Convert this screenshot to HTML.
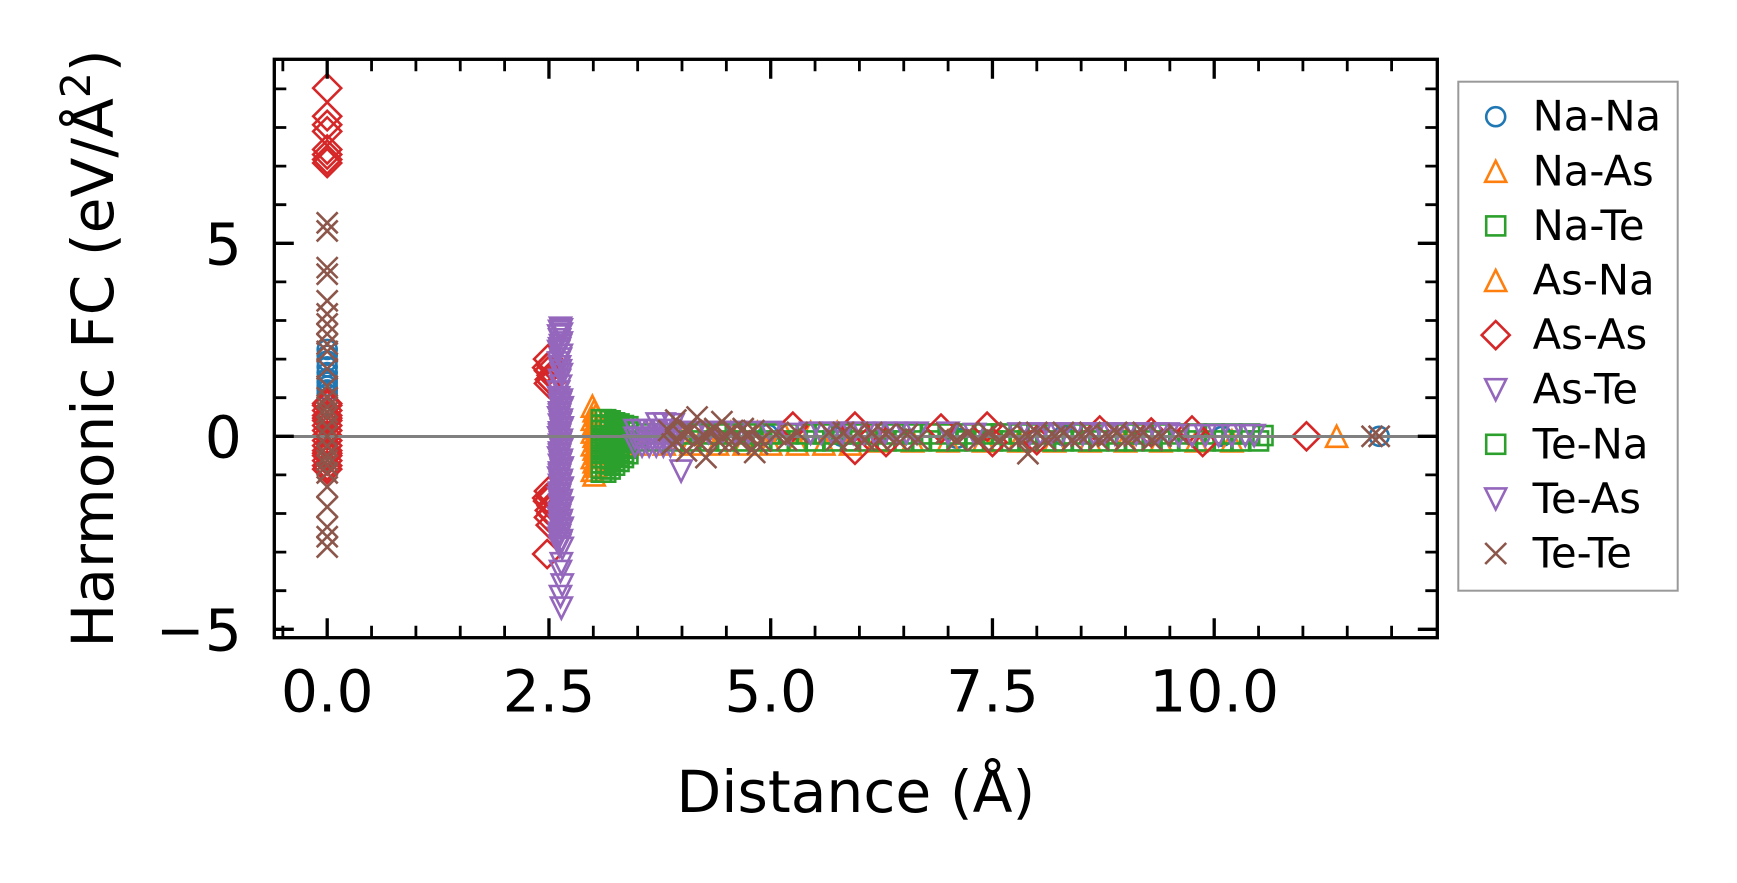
<!DOCTYPE html>
<html><head><meta charset="utf-8"><style>
html,body{margin:0;padding:0;background:#fff;width:1737px;height:883px;overflow:hidden}
svg{display:block}
text{font-family:"DejaVu Sans","Liberation Sans",sans-serif;fill:#000}
.m{fill:none;stroke-width:2.6;vector-effect:non-scaling-stroke}
</style></head><body>
<svg width="1737" height="883" viewBox="0 0 1737 883">
<defs>
<ellipse id="c" class="m" rx="0.1071" ry="0.2461" stroke="#1f77b4"/>
<polygon id="t" class="m" points="0,0.272 0.1184,-0.272 -0.1184,-0.272" stroke="#ff7f0e"/>
<rect id="s" class="m" x="-0.1071" y="-0.2461" width="0.2142" height="0.4922" stroke="#2ca02c"/>
<polygon id="d" class="m" points="0,0.3627 0.1578,0 0,-0.3627 -0.1578,0" stroke="#d62728"/>
<polygon id="v" class="m" points="0,-0.272 0.1184,0.272 -0.1184,0.272" stroke="#9467bd"/>
<path id="x" class="m" d="M-0.1184,-0.272L0.1184,0.272M-0.1184,0.272L0.1184,-0.272" stroke="#8c564b"/>
</defs>

<g transform="translate(327.2 436.3) scale(88.7 -38.6)">
<!-- Na-Na blue circles -->
<use href="#c" x="0" y="2.25"/><use href="#c" x="0" y="2.1"/><use href="#c" x="0" y="1.95"/><use href="#c" x="0" y="1.8"/><use href="#c" x="0" y="1.65"/><use href="#c" x="0" y="1.5"/><use href="#c" x="0" y="1.4"/><use href="#c" x="0" y="1.3"/><use href="#c" x="0" y="1.2"/><use href="#c" x="0" y="1.1"/><use href="#c" x="0" y="0.6"/><use href="#c" x="0" y="0.3"/><use href="#c" x="0" y="-0.2"/>
<use href="#c" x="4.97" y="0.05"/><use href="#c" x="5.8" y="0"/><use href="#c" x="7.1" y="-0.05"/><use href="#c" x="8.3" y="0.02"/><use href="#c" x="10.09" y="0"/><use href="#c" x="11.86" y="0"/>

<!-- orange triangles -->
<use href="#t" x="2.99" y="0.78"/><use href="#t" x="3.01" y="0.66"/><use href="#t" x="3.03" y="0.55"/><use href="#t" x="2.99" y="0.44"/><use href="#t" x="3.01" y="0.33"/><use href="#t" x="3.03" y="0.22"/><use href="#t" x="2.99" y="0.11"/><use href="#t" x="3.01" y="0"/><use href="#t" x="3.03" y="-0.11"/><use href="#t" x="2.99" y="-0.22"/><use href="#t" x="3.01" y="-0.33"/><use href="#t" x="3.03" y="-0.44"/><use href="#t" x="2.99" y="-0.55"/><use href="#t" x="3.01" y="-0.66"/><use href="#t" x="3.03" y="-0.77"/><use href="#t" x="2.99" y="-0.88"/><use href="#t" x="3.01" y="-1.0"/>
<use href="#t" x="3.5" y="-0.2"/><use href="#t" x="3.65" y="0.1"/><use href="#t" x="3.8" y="-0.2"/><use href="#t" x="3.95" y="0.1"/><use href="#t" x="4.1" y="-0.2"/><use href="#t" x="4.25" y="0.1"/><use href="#t" x="4.4" y="-0.2"/><use href="#t" x="4.55" y="0.1"/><use href="#t" x="4.7" y="-0.2"/><use href="#t" x="4.85" y="0.1"/><use href="#t" x="5.0" y="-0.2"/><use href="#t" x="5.15" y="0.1"/><use href="#t" x="5.3" y="-0.2"/><use href="#t" x="5.45" y="0.1"/><use href="#t" x="5.6" y="-0.2"/><use href="#t" x="5.75" y="0.1"/><use href="#t" x="5.9" y="-0.2"/>
<use href="#t" x="6.2" y="-0.12"/><use href="#t" x="6.6" y="-0.12"/><use href="#t" x="7.0" y="-0.12"/><use href="#t" x="7.4" y="-0.12"/><use href="#t" x="7.8" y="-0.12"/><use href="#t" x="8.2" y="-0.12"/><use href="#t" x="8.6" y="-0.12"/><use href="#t" x="9.0" y="-0.12"/><use href="#t" x="9.4" y="-0.12"/><use href="#t" x="9.8" y="-0.12"/><use href="#t" x="10.2" y="-0.12"/>
<use href="#t" x="11.38" y="0"/>

<!-- green squares -->
<use href="#s" x="3.09" y="0.43"/><use href="#s" x="3.09" y="0.29"/><use href="#s" x="3.09" y="0.15"/><use href="#s" x="3.09" y="0.01"/><use href="#s" x="3.09" y="-0.13"/><use href="#s" x="3.09" y="-0.27"/><use href="#s" x="3.09" y="-0.41"/><use href="#s" x="3.09" y="-0.55"/><use href="#s" x="3.09" y="-0.69"/><use href="#s" x="3.09" y="-0.83"/><use href="#s" x="3.09" y="-0.93"/>
<use href="#s" x="3.14" y="0.43"/><use href="#s" x="3.14" y="0.29"/><use href="#s" x="3.14" y="0.15"/><use href="#s" x="3.14" y="0.01"/><use href="#s" x="3.14" y="-0.13"/><use href="#s" x="3.14" y="-0.27"/><use href="#s" x="3.14" y="-0.41"/><use href="#s" x="3.14" y="-0.55"/><use href="#s" x="3.14" y="-0.69"/><use href="#s" x="3.14" y="-0.83"/><use href="#s" x="3.14" y="-0.93"/>
<use href="#s" x="3.19" y="0.40"/><use href="#s" x="3.19" y="0.26"/><use href="#s" x="3.19" y="0.12"/><use href="#s" x="3.19" y="-0.02"/><use href="#s" x="3.19" y="-0.16"/><use href="#s" x="3.19" y="-0.30"/><use href="#s" x="3.19" y="-0.44"/><use href="#s" x="3.19" y="-0.58"/><use href="#s" x="3.19" y="-0.72"/><use href="#s" x="3.19" y="-0.85"/>
<use href="#s" x="3.24" y="0.35"/><use href="#s" x="3.24" y="0.21"/><use href="#s" x="3.24" y="0.07"/><use href="#s" x="3.24" y="-0.07"/><use href="#s" x="3.24" y="-0.21"/><use href="#s" x="3.24" y="-0.35"/><use href="#s" x="3.24" y="-0.49"/><use href="#s" x="3.24" y="-0.63"/><use href="#s" x="3.24" y="-0.75"/>
<use href="#s" x="3.29" y="0.32"/><use href="#s" x="3.29" y="0.18"/><use href="#s" x="3.29" y="0.04"/><use href="#s" x="3.29" y="-0.10"/><use href="#s" x="3.29" y="-0.24"/><use href="#s" x="3.29" y="-0.38"/><use href="#s" x="3.29" y="-0.52"/><use href="#s" x="3.29" y="-0.65"/>
<use href="#s" x="3.34" y="0.28"/><use href="#s" x="3.34" y="0.14"/><use href="#s" x="3.34" y="0"/><use href="#s" x="3.34" y="-0.14"/><use href="#s" x="3.34" y="-0.28"/><use href="#s" x="3.34" y="-0.42"/><use href="#s" x="3.34" y="-0.55"/>
<use href="#s" x="3.39" y="0.25"/><use href="#s" x="3.39" y="0.11"/><use href="#s" x="3.39" y="-0.03"/><use href="#s" x="3.39" y="-0.17"/><use href="#s" x="3.39" y="-0.31"/><use href="#s" x="3.39" y="-0.45"/>
<use href="#s" x="3.5" y="-0.12"/><use href="#s" x="3.6" y="0.06"/><use href="#s" x="3.7" y="-0.12"/><use href="#s" x="3.8" y="0.06"/><use href="#s" x="3.9" y="-0.12"/><use href="#s" x="4.0" y="0.06"/><use href="#s" x="4.1" y="-0.12"/><use href="#s" x="4.2" y="0.06"/><use href="#s" x="4.3" y="-0.12"/><use href="#s" x="4.4" y="0.06"/><use href="#s" x="4.5" y="-0.12"/><use href="#s" x="4.6" y="0.06"/><use href="#s" x="4.7" y="-0.12"/><use href="#s" x="4.8" y="0.06"/><use href="#s" x="4.9" y="-0.12"/><use href="#s" x="5.0" y="0.06"/><use href="#s" x="5.1" y="-0.12"/><use href="#s" x="5.2" y="0.06"/><use href="#s" x="5.3" y="-0.12"/><use href="#s" x="5.4" y="0.06"/><use href="#s" x="5.5" y="-0.12"/><use href="#s" x="5.6" y="0.06"/><use href="#s" x="5.7" y="-0.12"/><use href="#s" x="5.8" y="0.06"/><use href="#s" x="5.9" y="-0.12"/><use href="#s" x="6.0" y="0.06"/><use href="#s" x="6.1" y="-0.12"/><use href="#s" x="6.2" y="0.06"/><use href="#s" x="6.3" y="-0.12"/><use href="#s" x="6.4" y="0.06"/><use href="#s" x="6.5" y="-0.12"/><use href="#s" x="6.6" y="0.06"/><use href="#s" x="6.7" y="-0.12"/><use href="#s" x="6.8" y="0.06"/><use href="#s" x="6.9" y="-0.12"/><use href="#s" x="7.0" y="0.06"/><use href="#s" x="7.1" y="-0.12"/><use href="#s" x="7.2" y="0.06"/><use href="#s" x="7.3" y="-0.12"/><use href="#s" x="7.4" y="0.06"/><use href="#s" x="7.5" y="-0.12"/><use href="#s" x="7.6" y="0.06"/><use href="#s" x="7.7" y="-0.12"/><use href="#s" x="7.8" y="0.06"/><use href="#s" x="7.9" y="-0.12"/><use href="#s" x="8.0" y="0.06"/><use href="#s" x="8.1" y="-0.12"/><use href="#s" x="8.2" y="0.06"/><use href="#s" x="8.3" y="-0.12"/><use href="#s" x="8.4" y="0.06"/><use href="#s" x="8.5" y="-0.12"/><use href="#s" x="8.6" y="0.06"/><use href="#s" x="8.7" y="-0.12"/><use href="#s" x="8.8" y="0.06"/><use href="#s" x="8.9" y="-0.12"/><use href="#s" x="9.0" y="0.06"/><use href="#s" x="9.1" y="-0.12"/><use href="#s" x="9.2" y="0.06"/><use href="#s" x="9.3" y="-0.12"/><use href="#s" x="9.4" y="0.06"/><use href="#s" x="9.5" y="-0.12"/><use href="#s" x="9.6" y="0.06"/><use href="#s" x="9.7" y="-0.12"/><use href="#s" x="9.8" y="0.06"/><use href="#s" x="9.9" y="-0.12"/><use href="#s" x="10.0" y="0.06"/><use href="#s" x="10.1" y="-0.12"/><use href="#s" x="10.2" y="0.06"/><use href="#s" x="10.3" y="-0.12"/><use href="#s" x="10.4" y="0.06"/><use href="#s" x="10.5" y="-0.12"/><use href="#s" x="10.55" y="0.02"/>

<!-- red diamonds -->
<use href="#d" x="0" y="9.02"/><use href="#d" x="0" y="8.29"/><use href="#d" x="0" y="8.07"/><use href="#d" x="0" y="7.9"/><use href="#d" x="0" y="7.43"/><use href="#d" x="0" y="7.3"/><use href="#d" x="0" y="7.17"/><use href="#d" x="0" y="7.08"/>
<use href="#d" x="0" y="0.85"/><use href="#d" x="0" y="0.8"/><use href="#d" x="0" y="0.67"/><use href="#d" x="0" y="0.54"/><use href="#d" x="0" y="0.47"/><use href="#d" x="0" y="0.41"/><use href="#d" x="0" y="0.28"/><use href="#d" x="0" y="0.15"/><use href="#d" x="0" y="0.02"/><use href="#d" x="0" y="-0.11"/><use href="#d" x="0" y="-0.24"/><use href="#d" x="0" y="-0.37"/><use href="#d" x="0" y="-0.44"/><use href="#d" x="0" y="-0.5"/><use href="#d" x="0" y="-0.63"/><use href="#d" x="0" y="-0.76"/><use href="#d" x="0" y="-0.85"/>
<use href="#d" x="2.49" y="2.0"/><use href="#d" x="2.52" y="1.85"/><use href="#d" x="2.5" y="1.7"/><use href="#d" x="2.53" y="1.58"/><use href="#d" x="2.51" y="1.47"/><use href="#d" x="2.5" y="1.37"/><use href="#d" x="2.48" y="1.78"/><use href="#d" x="2.53" y="1.42"/>
<use href="#d" x="2.5" y="-1.42"/><use href="#d" x="2.52" y="-1.55"/><use href="#d" x="2.49" y="-1.68"/><use href="#d" x="2.53" y="-1.8"/><use href="#d" x="2.51" y="-1.92"/><use href="#d" x="2.5" y="-2.1"/><use href="#d" x="2.52" y="-2.3"/><use href="#d" x="2.48" y="-3.05"/><use href="#d" x="2.48" y="-1.6"/><use href="#d" x="2.53" y="-2.0"/>
<use href="#d" x="5.25" y="0.25"/><use href="#d" x="5.95" y="0.25"/><use href="#d" x="5.95" y="-0.35"/><use href="#d" x="6.3" y="-0.15"/><use href="#d" x="6.92" y="0.2"/><use href="#d" x="7.44" y="0.25"/><use href="#d" x="7.5" y="-0.15"/><use href="#d" x="8.0" y="-0.1"/><use href="#d" x="8.71" y="0.15"/><use href="#d" x="9.29" y="0.1"/><use href="#d" x="9.75" y="0.15"/><use href="#d" x="9.87" y="-0.15"/><use href="#d" x="11.04" y="0"/>

<!-- purple down triangles -->
<use href="#v" x="2.63" y="2.8"/><use href="#v" x="2.62" y="2.72"/><use href="#v" x="2.64" y="2.65"/><use href="#v" x="2.62" y="2.5"/><use href="#v" x="2.63" y="2.35"/><use href="#v" x="2.61" y="2.2"/><use href="#v" x="2.63" y="2.0"/><use href="#v" x="2.62" y="1.8"/><use href="#v" x="2.64" y="1.6"/><use href="#v" x="2.62" y="1.45"/><use href="#v" x="2.63" y="1.3"/><use href="#v" x="2.61" y="1.15"/>
<use href="#v" x="2.64" y="2.76"/><use href="#v" x="2.61" y="2.6"/><use href="#v" x="2.64" y="2.42"/><use href="#v" x="2.62" y="2.27"/><use href="#v" x="2.64" y="2.1"/><use href="#v" x="2.61" y="1.9"/><use href="#v" x="2.63" y="1.7"/>
<use href="#v" x="2.61" y="1.0"/><use href="#v" x="2.63" y="0.87"/><use href="#v" x="2.65" y="0.74"/><use href="#v" x="2.62" y="0.61"/><use href="#v" x="2.61" y="0.48"/><use href="#v" x="2.63" y="0.35"/><use href="#v" x="2.65" y="0.22"/><use href="#v" x="2.62" y="0.09"/><use href="#v" x="2.61" y="-0.04"/><use href="#v" x="2.63" y="-0.17"/><use href="#v" x="2.65" y="-0.3"/><use href="#v" x="2.62" y="-0.43"/><use href="#v" x="2.61" y="-0.56"/><use href="#v" x="2.63" y="-0.69"/><use href="#v" x="2.65" y="-0.82"/><use href="#v" x="2.62" y="-0.95"/><use href="#v" x="2.61" y="-1.08"/><use href="#v" x="2.63" y="-1.21"/><use href="#v" x="2.65" y="-1.34"/><use href="#v" x="2.62" y="-1.47"/><use href="#v" x="2.61" y="-1.6"/><use href="#v" x="2.63" y="-1.73"/><use href="#v" x="2.65" y="-1.86"/><use href="#v" x="2.62" y="-1.99"/><use href="#v" x="2.61" y="-2.12"/><use href="#v" x="2.63" y="-2.25"/><use href="#v" x="2.65" y="-2.38"/><use href="#v" x="2.62" y="-2.51"/><use href="#v" x="2.61" y="-2.64"/><use href="#v" x="2.63" y="-2.77"/><use href="#v" x="2.65" y="-2.9"/>
<use href="#v" x="2.64" y="0.94"/><use href="#v" x="2.62" y="0.81"/><use href="#v" x="2.64" y="0.68"/><use href="#v" x="2.62" y="0.55"/><use href="#v" x="2.64" y="0.42"/><use href="#v" x="2.62" y="0.29"/><use href="#v" x="2.64" y="0.16"/><use href="#v" x="2.62" y="0.03"/><use href="#v" x="2.64" y="-0.1"/><use href="#v" x="2.62" y="-0.23"/><use href="#v" x="2.64" y="-0.36"/><use href="#v" x="2.62" y="-0.49"/><use href="#v" x="2.64" y="-0.62"/><use href="#v" x="2.62" y="-0.75"/><use href="#v" x="2.64" y="-0.88"/><use href="#v" x="2.62" y="-1.01"/><use href="#v" x="2.64" y="-1.14"/><use href="#v" x="2.62" y="-1.27"/><use href="#v" x="2.64" y="-1.4"/><use href="#v" x="2.62" y="-1.53"/><use href="#v" x="2.64" y="-1.66"/><use href="#v" x="2.62" y="-1.79"/><use href="#v" x="2.64" y="-1.92"/><use href="#v" x="2.62" y="-2.05"/><use href="#v" x="2.64" y="-2.18"/><use href="#v" x="2.62" y="-2.31"/><use href="#v" x="2.64" y="-2.44"/><use href="#v" x="2.62" y="-2.57"/><use href="#v" x="2.64" y="-2.7"/><use href="#v" x="2.62" y="-2.84"/>
<use href="#v" x="2.64" y="-3.3"/><use href="#v" x="2.63" y="-3.5"/><use href="#v" x="2.65" y="-3.85"/><use href="#v" x="2.63" y="-4.15"/><use href="#v" x="2.64" y="-4.45"/>
<use href="#v" x="3.47" y="0.15"/><use href="#v" x="3.47" y="-0.05"/><use href="#v" x="3.47" y="-0.25"/><use href="#v" x="3.55" y="0.15"/><use href="#v" x="3.55" y="-0.05"/><use href="#v" x="3.55" y="-0.25"/><use href="#v" x="3.63" y="0.15"/><use href="#v" x="3.63" y="-0.05"/><use href="#v" x="3.63" y="-0.25"/><use href="#v" x="3.71" y="0.15"/><use href="#v" x="3.71" y="-0.05"/><use href="#v" x="3.71" y="-0.25"/><use href="#v" x="3.79" y="0.15"/><use href="#v" x="3.79" y="-0.05"/><use href="#v" x="3.79" y="-0.25"/><use href="#v" x="3.87" y="0.15"/><use href="#v" x="3.87" y="-0.05"/><use href="#v" x="3.87" y="-0.25"/>
<use href="#v" x="3.72" y="0.32"/><use href="#v" x="3.8" y="0.32"/><use href="#v" x="3.9" y="0.3"/><use href="#v" x="3.99" y="-0.9"/>
<use href="#v" x="4.0" y="0.1"/><use href="#v" x="4.15" y="0.1"/><use href="#v" x="4.3" y="0.1"/><use href="#v" x="4.45" y="0.1"/><use href="#v" x="4.6" y="0.1"/><use href="#v" x="4.75" y="0.1"/><use href="#v" x="5.0" y="0.1"/><use href="#v" x="5.2" y="0.05"/>
<use href="#v" x="5.45" y="0.08"/><use href="#v" x="5.57" y="0.08"/><use href="#v" x="5.69" y="0.08"/><use href="#v" x="5.81" y="0.08"/><use href="#v" x="5.93" y="0.08"/><use href="#v" x="6.05" y="0.08"/><use href="#v" x="6.17" y="0.08"/><use href="#v" x="6.29" y="0.08"/><use href="#v" x="6.41" y="0.08"/><use href="#v" x="6.53" y="0.08"/><use href="#v" x="6.65" y="0.08"/><use href="#v" x="7.0" y="0.08"/><use href="#v" x="7.3" y="0.05"/>
<use href="#v" x="7.8" y="0.06"/><use href="#v" x="7.92" y="0.06"/><use href="#v" x="8.04" y="0.06"/><use href="#v" x="8.16" y="0.06"/><use href="#v" x="8.28" y="0.06"/><use href="#v" x="8.4" y="0.06"/><use href="#v" x="8.52" y="0.06"/><use href="#v" x="8.64" y="0.06"/><use href="#v" x="8.76" y="0.06"/><use href="#v" x="8.88" y="0.06"/><use href="#v" x="9.0" y="0.06"/><use href="#v" x="9.12" y="0.06"/><use href="#v" x="9.24" y="0.06"/><use href="#v" x="9.36" y="0.06"/><use href="#v" x="9.48" y="0.06"/>
<use href="#v" x="9.6" y="0.02"/><use href="#v" x="9.75" y="0.02"/><use href="#v" x="9.9" y="0.02"/><use href="#v" x="10.05" y="0.02"/><use href="#v" x="10.2" y="0.02"/><use href="#v" x="10.35" y="0.02"/><use href="#v" x="10.45" y="0.02"/>
</g>

<!-- zero line -->
<line x1="274.3" y1="436.5" x2="1437.3" y2="436.5" stroke="#808080" stroke-width="3"/>

<g transform="translate(327.2 436.3) scale(88.7 -38.6)">
<!-- brown x -->
<use href="#x" x="0" y="5.53"/><use href="#x" x="0" y="5.32"/><use href="#x" x="0" y="4.37"/><use href="#x" x="0" y="4.2"/><use href="#x" x="0" y="3.51"/><use href="#x" x="0" y="3.17"/><use href="#x" x="0" y="2.91"/><use href="#x" x="0" y="2.65"/><use href="#x" x="0" y="2.39"/><use href="#x" x="0" y="2.2"/><use href="#x" x="0" y="1.75"/><use href="#x" x="0" y="1.3"/><use href="#x" x="0" y="1.0"/><use href="#x" x="0" y="0.75"/><use href="#x" x="0" y="0.5"/><use href="#x" x="0" y="0.25"/><use href="#x" x="0" y="0"/><use href="#x" x="0" y="-0.25"/><use href="#x" x="0" y="-0.5"/><use href="#x" x="0" y="-0.75"/><use href="#x" x="0" y="-0.95"/><use href="#x" x="0" y="-1.31"/><use href="#x" x="0" y="-1.83"/><use href="#x" x="0" y="-2.35"/><use href="#x" x="0" y="-2.6"/><use href="#x" x="0" y="-2.87"/><use href="#x" x="0" y="0.62"/><use href="#x" x="0" y="-0.62"/>
<use href="#x" x="3.85" y="0.15"/><use href="#x" x="3.93" y="-0.12"/><use href="#x" x="4.01" y="0.02"/><use href="#x" x="4.09" y="0.15"/><use href="#x" x="4.17" y="-0.12"/><use href="#x" x="4.25" y="0.02"/><use href="#x" x="4.33" y="0.15"/><use href="#x" x="4.41" y="-0.12"/><use href="#x" x="4.49" y="0.02"/><use href="#x" x="4.57" y="0.15"/><use href="#x" x="4.65" y="-0.12"/><use href="#x" x="4.73" y="0.02"/><use href="#x" x="4.81" y="0.15"/><use href="#x" x="4.89" y="-0.12"/>
<use href="#x" x="3.89" y="-0.2"/><use href="#x" x="4.05" y="0.2"/><use href="#x" x="4.21" y="-0.2"/><use href="#x" x="4.37" y="0.2"/><use href="#x" x="4.53" y="-0.2"/><use href="#x" x="4.69" y="0.2"/><use href="#x" x="4.85" y="-0.2"/>
<use href="#x" x="3.93" y="0.42"/><use href="#x" x="4.17" y="0.5"/><use href="#x" x="4.27" y="-0.55"/><use href="#x" x="4.45" y="0.38"/><use href="#x" x="4.82" y="-0.42"/><use href="#x" x="4.05" y="-0.38"/>
<use href="#x" x="5.06" y="0.05"/><use href="#x" x="5.18" y="-0.1"/><use href="#x" x="5.3" y="0.1"/>
<use href="#x" x="5.66" y="0.1"/><use href="#x" x="5.74" y="-0.1"/><use href="#x" x="5.82" y="0.1"/><use href="#x" x="5.9" y="-0.1"/><use href="#x" x="5.98" y="0.1"/><use href="#x" x="6.06" y="-0.1"/><use href="#x" x="6.14" y="0.1"/><use href="#x" x="6.22" y="-0.1"/>
<use href="#x" x="6.3" y="0.05"/><use href="#x" x="6.42" y="-0.08"/><use href="#x" x="6.54" y="0.05"/><use href="#x" x="6.66" y="-0.08"/>
<use href="#x" x="6.98" y="0.08"/><use href="#x" x="7.1" y="-0.1"/><use href="#x" x="7.22" y="0.08"/><use href="#x" x="7.34" y="-0.1"/><use href="#x" x="7.46" y="0.08"/><use href="#x" x="7.58" y="-0.1"/><use href="#x" x="7.9" y="-0.45"/>
<use href="#x" x="7.7" y="0.1"/><use href="#x" x="7.8" y="-0.1"/><use href="#x" x="7.9" y="0"/><use href="#x" x="8.0" y="0.1"/><use href="#x" x="8.1" y="-0.1"/><use href="#x" x="8.2" y="0"/><use href="#x" x="8.3" y="0.1"/><use href="#x" x="8.4" y="-0.1"/><use href="#x" x="8.5" y="0"/><use href="#x" x="8.6" y="0.1"/><use href="#x" x="8.7" y="-0.1"/><use href="#x" x="8.8" y="0"/><use href="#x" x="8.9" y="0.1"/><use href="#x" x="9.0" y="-0.1"/><use href="#x" x="9.1" y="0"/><use href="#x" x="9.2" y="0.1"/><use href="#x" x="9.3" y="-0.1"/><use href="#x" x="9.4" y="0"/>
<use href="#x" x="9.6" y="0.05"/><use href="#x" x="11.78" y="0"/><use href="#x" x="11.86" y="0"/>
</g>

<!-- spines -->
<rect x="274.3" y="59.3" width="1163" height="578.4" fill="none" stroke="#000" stroke-width="3.33"/>

<!-- major ticks -->
<path fill="none" stroke="#000" stroke-width="3.3" d="
M327.2 637.7v-19.5M548.95 637.7v-19.5M770.7 637.7v-19.5M992.45 637.7v-19.5M1214.2 637.7v-19.5
M327.2 59.3v19.5M548.95 59.3v19.5M770.7 59.3v19.5M992.45 59.3v19.5M1214.2 59.3v19.5
M274.3 629.3h19.5M274.3 436.3h19.5M274.3 243.3h19.5
M1437.3 629.3h-19.5M1437.3 436.3h-19.5M1437.3 243.3h-19.5"/>
<!-- minor ticks -->
<path fill="none" stroke="#000" stroke-width="2.8" d="
M282.85 637.7v-12M371.55 637.7v-12M415.9 637.7v-12M460.25 637.7v-12M504.6 637.7v-12M593.3 637.7v-12M637.65 637.7v-12M682 637.7v-12M726.35 637.7v-12M815.05 637.7v-12M859.4 637.7v-12M903.75 637.7v-12M948.1 637.7v-12M1036.8 637.7v-12M1081.15 637.7v-12M1125.5 637.7v-12M1169.85 637.7v-12M1258.55 637.7v-12M1302.9 637.7v-12M1347.25 637.7v-12M1391.6 637.7v-12
M282.85 59.3v12M371.55 59.3v12M415.9 59.3v12M460.25 59.3v12M504.6 59.3v12M593.3 59.3v12M637.65 59.3v12M682 59.3v12M726.35 59.3v12M815.05 59.3v12M859.4 59.3v12M903.75 59.3v12M948.1 59.3v12M1036.8 59.3v12M1081.15 59.3v12M1125.5 59.3v12M1169.85 59.3v12M1258.55 59.3v12M1302.9 59.3v12M1347.25 59.3v12M1391.6 59.3v12
M274.3 590.7h12M274.3 552.1h12M274.3 513.5h12M274.3 474.9h12M274.3 397.7h12M274.3 359.1h12M274.3 320.5h12M274.3 281.9h12M274.3 204.7h12M274.3 166.1h12M274.3 127.5h12M274.3 88.9h12
M1437.3 590.7h-12M1437.3 552.1h-12M1437.3 513.5h-12M1437.3 474.9h-12M1437.3 397.7h-12M1437.3 359.1h-12M1437.3 320.5h-12M1437.3 281.9h-12M1437.3 204.7h-12M1437.3 166.1h-12M1437.3 127.5h-12M1437.3 88.9h-12"/>

<!-- tick labels -->
<g font-size="58.3" text-anchor="middle">
<text x="327.2" y="711.5">0.0</text>
<text x="548.95" y="711.5">2.5</text>
<text x="770.7" y="711.5">5.0</text>
<text x="992.45" y="711.5">7.5</text>
<text x="1214.2" y="711.5">10.0</text>
</g>
<g font-size="58.3" text-anchor="end">
<text x="241.8" y="650.5">−5</text>
<text x="241.8" y="457.5">0</text>
<text x="241.8" y="264.5">5</text>
</g>

<!-- axis labels -->
<text x="855.8" y="811.8" font-size="58.3" text-anchor="middle">Distance (Å)</text>
<text transform="translate(113 348.5) rotate(-90)" font-size="58.3" text-anchor="middle">Harmonic FC (eV/Å<tspan font-size="40.8" dy="-23">2</tspan><tspan dy="23">)</tspan></text>

<!-- legend -->
<rect x="1458.3" y="81.7" width="219.4" height="509" fill="#fff" stroke="#999" stroke-width="2"/>
<g fill="none" stroke-width="2.6">
<circle cx="1495.7" cy="116.7" r="9.5" stroke="#1f77b4"/>
<polygon points="1495.7,160.8 1506.2,181.8 1485.2,181.8" stroke="#ff7f0e"/>
<rect x="1486.2" y="216.4" width="19" height="19" stroke="#2ca02c"/>
<polygon points="1495.7,270 1506.2,291 1485.2,291" stroke="#ff7f0e"/>
<polygon points="1495.7,321.1 1509.7,335.1 1495.7,349.1 1481.7,335.1" stroke="#d62728"/>
<polygon points="1495.7,400.2 1506.2,379.2 1485.2,379.2" stroke="#9467bd"/>
<rect x="1486.2" y="434.8" width="19" height="19" stroke="#2ca02c"/>
<polygon points="1495.7,509.4 1506.2,488.4 1485.2,488.4" stroke="#9467bd"/>
<path d="M1485.2 543L1506.2 564M1485.2 564L1506.2 543" stroke="#8c564b"/>
</g>
<g font-size="41.7">
<text x="1532.6" y="130.7">Na-Na</text>
<text x="1532.6" y="185.3">Na-As</text>
<text x="1532.6" y="239.9">Na-Te</text>
<text x="1532.6" y="294.5">As-Na</text>
<text x="1532.6" y="349.1">As-As</text>
<text x="1532.6" y="403.7">As-Te</text>
<text x="1532.6" y="458.3">Te-Na</text>
<text x="1532.6" y="512.9">Te-As</text>
<text x="1532.6" y="567.5">Te-Te</text>
</g>
</svg>
</body></html>
